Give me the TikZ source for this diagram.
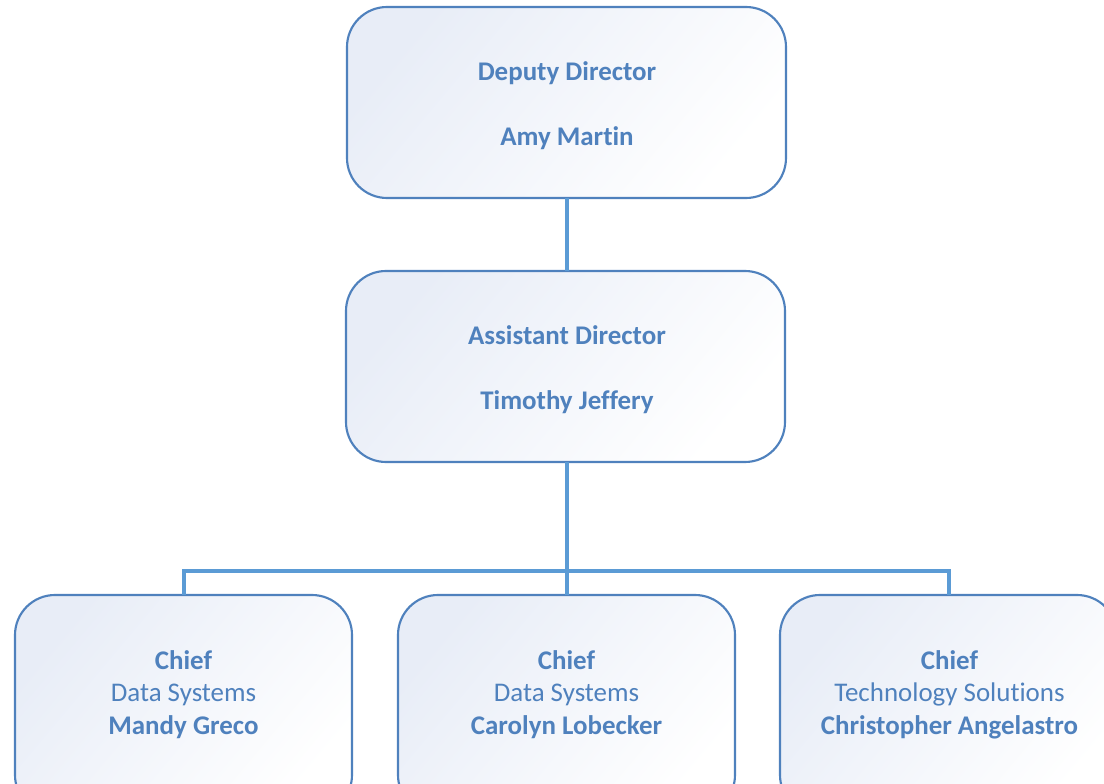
\documentclass[tikz,border=0pt]{standalone}
\usepackage{fontspec}
\setmainfont{Carlito}[Ligatures={NoCommon}]
\definecolor{boxline}{HTML}{4F81BD}
\definecolor{conn}{HTML}{5B9BD5}
\definecolor{txt}{HTML}{4F81BD}
\definecolor{shadeblue}{HTML}{E8EDF7}
\definecolor{shademid}{HTML}{F6F8FC}
\tikzset{
  orgbox/.style={draw=boxline, line width=1.6pt, rounded corners=30pt, left color=shadeblue, middle color=shademid, right color=white, shading angle=50, text=txt, align=center, inner sep=0pt, outer sep=0pt},
  conline/.style={draw=conn, line width=3pt},
}
\begin{document}
\begin{tikzpicture}[x=0.75pt,y=-0.75pt]
\useasboundingbox (0,0) rectangle (1104,784);
\clip (0,0) rectangle (1104,784);
% top boxes
\node[orgbox, minimum width=439*0.75pt, minimum height=191*0.75pt] (dd) at (566.5,102.5) {};
\node[text=txt, align=center, font=\fontsize{20.2}{24}\selectfont\bfseries] (ddt) at (567,106) {Deputy Director\\[24.5pt]Amy Martin};
\node[orgbox, minimum width=439*0.75pt, minimum height=191*0.75pt] (ad) at (565.5,366.5) {};
\node[text=txt, align=center, font=\fontsize{20.2}{24}\selectfont\bfseries] (adt) at (567,370) {Assistant Director\\[24.5pt]Timothy Jeffery};
% bottom boxes
\node[orgbox, minimum width=337*0.75pt, minimum height=220*0.75pt, anchor=north] (c1) at (183.5,595) {};
\node[orgbox, minimum width=337*0.75pt, minimum height=220*0.75pt, anchor=north] (c2) at (566.5,595) {};
\node[orgbox, minimum width=337*0.75pt, minimum height=220*0.75pt, anchor=north] (c3) at (948.5,595) {};
\node[text=txt, align=center, font=\fontsize{20.2}{24.5}\selectfont] (t1) at (183.5,694.5) {\textbf{Chief}\\Data Systems\\\textbf{Mandy Greco}};
\node[text=txt, align=center, font=\fontsize{20.2}{24.5}\selectfont] (t2) at (566.5,694.5) {\textbf{Chief}\\Data Systems\\\textbf{Carolyn Lobecker}};
\node[text=txt, align=center, font=\fontsize{20.2}{24.5}\selectfont] (t3) at (949.5,694.5) {\textbf{Chief}\\Technology Solutions\\\textbf{Christopher Angelastro}};
% connectors
\coordinate (hub) at (567,571);
\draw[conline] (dd.south -| 567,0) -- (ad.north -| 567,0);
\draw[conline] (ad.south -| hub) -- (hub);
\draw[conline] (c1.north) -- (c1.north |- hub) -- (c3.north |- hub) -- (c3.north);
\draw[conline] (hub) -- (c2.north -| hub);
\end{tikzpicture}
\end{document}
